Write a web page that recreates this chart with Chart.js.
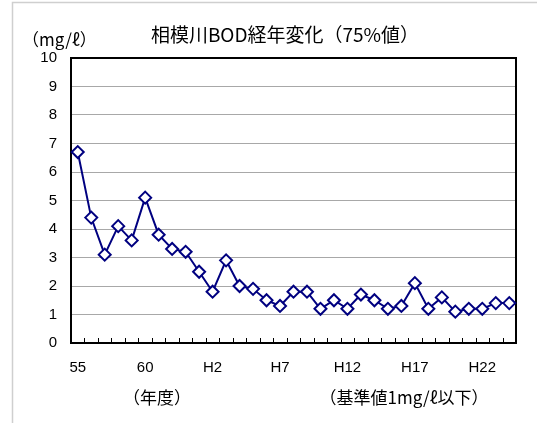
<!DOCTYPE html>
<html>
<head>
<meta charset="utf-8">
<script src="https://cdn.jsdelivr.net/npm/chart.js@4"></script>
<style>
  body { margin: 0; background: #fff; }
  #wrap { position: relative; width: 537px; height: 423px; }
</style>
</head>
<body>
<div id="wrap"><canvas id="bod-chart"></canvas></div>
<script>
// 年度 (昭和55 〜 平成24)
const years = ["55", "56", "57", "58", "59", "60", "61", "62", "63",
  "H1", "H2", "H3", "H4", "H5", "H6", "H7", "H8", "H9", "H10", "H11", "H12",
  "H13", "H14", "H15", "H16", "H17", "H18", "H19", "H20", "H21", "H22", "H23", "H24"];
// BOD 75%値 (mg/ℓ)
const bod = [6.7, 4.4, 3.1, 4.1, 3.6, 5.1, 3.8, 3.3, 3.2,
  2.5, 1.8, 2.9, 2.0, 1.9, 1.5, 1.3, 1.8, 1.8, 1.2, 1.5, 1.2,
  1.7, 1.5, 1.2, 1.3, 2.1, 1.2, 1.6, 1.1, 1.2, 1.2, 1.4, 1.4];
const yMin = 0, yMax = 10, yStep = 1;

const latin = '"Liberation Sans", Arial, "Noto Sans CJK JP", sans-serif';
const jp = '"Noto Sans CJK JP", "Liberation Sans", sans-serif';

const framePlugin = {
  id: "frame",
  beforeDraw(chart) {
    const ctx = chart.ctx;
    ctx.save();
    ctx.strokeStyle = "#cfcfcf";
    ctx.lineWidth = 1.5;
    ctx.beginPath();
    ctx.moveTo(12.5, 423);
    ctx.lineTo(12.5, 2.5);
    ctx.lineTo(537, 2.5);
    ctx.stroke();
    ctx.restore();
  },
  beforeDatasetsDraw(chart) {
    const { ctx, chartArea: a } = chart;
    const x = chart.scales.x;
    ctx.save();
    // minor ticks between categories, pointing inwards
    ctx.strokeStyle = "#000";
    ctx.lineWidth = 1;
    ctx.beginPath();
    for (let i = 1; i < years.length; i++) {
      const px = Math.round((x.getPixelForValue(i - 1) + x.getPixelForValue(i)) / 2) + 0.5;
      ctx.moveTo(px, a.bottom);
      ctx.lineTo(px, a.bottom - 5);
    }
    ctx.stroke();
    ctx.lineWidth = 2;
    ctx.strokeRect(a.left, a.top, a.right - a.left, a.bottom - a.top);
    ctx.restore();
  },
  afterDraw(chart) {
    const ctx = chart.ctx;
    ctx.save();
    ctx.fillStyle = "#000";
    ctx.textBaseline = "middle";
    ctx.textAlign = "center";
    ctx.font = "19px " + jp;
    ctx.fillText("相模川BOD経年変化（75%値）", 285, 35);
    ctx.font = "17px " + jp;
    ctx.textAlign = "left";
    ctx.fillText("（mg/ℓ）", 22, 40);
    ctx.textAlign = "center";
    ctx.fillText("（年度）", 157, 398);
    ctx.fillText("（基準値1mg/ℓ以下）", 404, 398);
    ctx.restore();
  }
};

new Chart(document.getElementById("bod-chart"), {
  type: "line",
  data: {
    labels: years,
    datasets: [{
      data: bod,
      borderColor: "#000080",
      borderWidth: 2,
      backgroundColor: "#ffffff",
      pointStyle: "rectRot",
      pointRadius: 6,
      pointBorderWidth: 2,
      pointBorderColor: "#000080",
      pointBackgroundColor: "#ffffff",
      tension: 0,
      fill: false
    }]
  },
  options: {
    responsive: true,
    maintainAspectRatio: false,
    animation: false,
    layout: { padding: { top: 58, right: 21, left: 0, bottom: 0 } },
    plugins: {
      legend: { display: false },
      tooltip: { enabled: false },
      title: { display: false }
    },
    scales: {
      x: {
        type: "category",
        offset: true,
        grid: { display: false },
        border: { display: false },
        afterFit(scale) { scale.height = 80; },
        ticks: {
          autoSkip: false,
          maxRotation: 0,
          minRotation: 0,
          padding: 8,
          color: "#000",
          font: { family: latin, size: 15 },
          callback: (v, i) => (i % 5 === 0 ? years[i] : "")
        }
      },
      y: {
        min: yMin,
        max: yMax,
        afterFit(scale) { scale.width = 71; },
        grid: { color: "#a8a8a8", lineWidth: 1, drawTicks: false },
        border: { display: false },
        ticks: {
          stepSize: yStep,
          padding: 14,
          color: "#000",
          font: { family: latin, size: 15 }
        }
      }
    }
  },
  plugins: [framePlugin]
});
</script>
</body>
</html>
